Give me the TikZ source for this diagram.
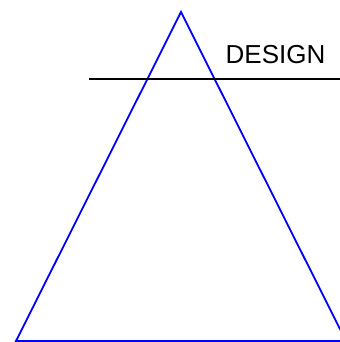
\documentclass[tikz,border=0pt]{standalone}
\usepackage{fontspec}
\setmainfont{Liberation Sans}
\usepackage{tikz}

\begin{document}
\begin{tikzpicture}[x=0.5pt,y=-0.5pt]
% Page frame
\useasboundingbox (0,0) rectangle (340,342);
\clip (0,0) rectangle (340,342);

% Triangle
\draw[blue,line width=0.9pt,line join=miter] (181,12) -- (346,341) -- (16,341) -- cycle;

% Level line and label
\draw[line width=0.9pt] (89,79) -- (340,79);
\node[font=\fontsize{13}{15}\selectfont,inner sep=0pt] (design) at (275.5,55) {DESIGN};

\end{tikzpicture}
\end{document}
